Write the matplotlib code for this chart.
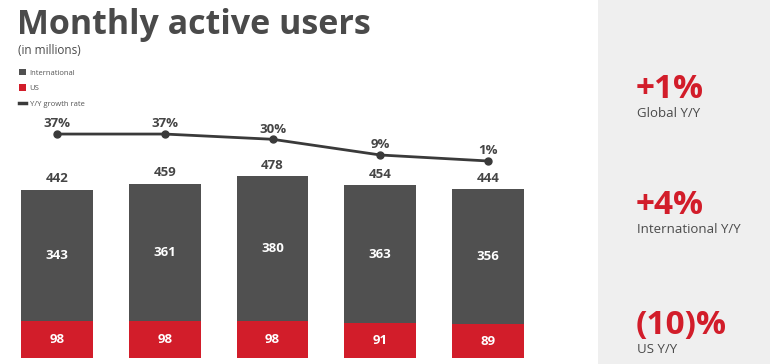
import matplotlib.pyplot as plt
from matplotlib.patches import Patch, Rectangle
from matplotlib.lines import Line2D

# data (millions of users, Y/Y growth in %)
periods = ['P1', 'P2', 'P3', 'P4', 'P5']
us_users = [98, 98, 98, 91, 89]
intl_users = [343, 361, 380, 363, 356]
total_users = [442, 459, 478, 454, 444]
growth_pct = [37, 37, 30, 9, 1]

kpi_values = ['+1%', '+4%', '(10)%']
kpi_labels = ['Global Y/Y', 'International Y/Y', 'US Y/Y']

grey = '#505050'
red = '#d21d2a'
text_grey = '#454545'

plt.rcParams['font.family'] = ['Open Sans', 'DejaVu Sans']

W, H = 770, 364
fig = plt.figure(figsize=(W / 100, H / 100), dpi=100)

# grey panel on the right
fig.patches.append(Rectangle((598 / W, 0), 1 - 598 / W, 1, transform=fig.transFigure,
                             facecolor='#efefef', edgecolor='none', zorder=0))

# bars axes (pixel placement)
ax = fig.add_axes([21 / W, 6 / H, 503 / W, 258 / H])
ax.set_facecolor('none')
x = list(range(len(periods)))
bw = 0.667
ax.bar(x, us_users, width=bw, color=red, zorder=2)
ax.bar(x, intl_users, width=bw, bottom=us_users, color=grey, zorder=2)
ax.set_xlim(-bw / 2, len(periods) - 1 + bw / 2)
ax.set_ylim(0, 679)
ax.axis('off')

for i in x:
    ax.text(i, us_users[i] / 2, str(us_users[i]), ha='center', va='center',
            color='white', fontsize=9.5, fontweight='bold')
    ax.text(i, us_users[i] + intl_users[i] / 2, str(intl_users[i]), ha='center', va='center',
            color='white', fontsize=9.5, fontweight='bold')
    ax.text(i, total_users[i] + 12, str(total_users[i]), ha='center', va='bottom',
            color=text_grey, fontsize=9.5, fontweight='bold')

# growth line on its own scale
ax2 = ax.twinx()
ax2.set_ylim(-262.3, 82.5)
ax2.axis('off')
ax2.plot(x, growth_pct, color='#3a3a3a', linewidth=2, marker='o', markersize=5, zorder=3)
for i in x:
    ax2.text(i, growth_pct[i] + 5, '{0}%'.format(growth_pct[i]), ha='center', va='bottom',
             color=text_grey, fontsize=9.5, fontweight='bold')

# titles
fig.text(17 / W, 1 - 34 / H, 'Monthly active users', fontsize=24.5, fontweight='bold',
         color='#4a4a4a', ha='left', va='baseline')
fig.text(18 / W, 1 - 54 / H, '(in millions)', fontsize=8.5, color='#4a4a4a',
         ha='left', va='baseline')

# legend
handles = [Patch(facecolor=grey, edgecolor='none'),
           Patch(facecolor=red, edgecolor='none'),
           Line2D([0], [0], color='#3a3a3a', linewidth=2.5)]
fig.legend(handles, ['International', 'US', 'Y/Y growth rate'], loc='upper left',
           bbox_to_anchor=(12 / W, 1 - 62 / H), frameon=False, fontsize=5.5,
           handlelength=0.9, handleheight=0.9, handletextpad=0.5, labelspacing=1.0,
           labelcolor='#555555')

# KPI panel
kpi_y = [98, 214, 334]
for val, lab, yy in zip(kpi_values, kpi_labels, kpi_y):
    fig.text(636 / W, 1 - yy / H, val, fontsize=24, fontweight='bold', color=red,
             ha='left', va='baseline')
    fig.text(637 / W, 1 - (yy + 9) / H, lab, fontsize=9.5, color='#4a4a4a',
             ha='left', va='top')

fig.savefig('out.png', dpi=100)
